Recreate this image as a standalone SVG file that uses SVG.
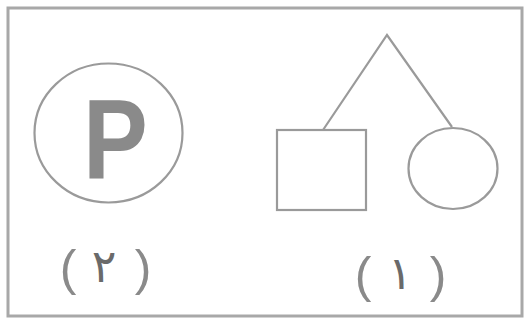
<svg xmlns="http://www.w3.org/2000/svg" width="525" height="324" viewBox="0 0 525 324">
<style>
.s{fill:none;stroke:#9a9a9a;stroke-width:2.2}
.t{fill:#858585;font-family:"DejaVu Sans","Liberation Sans",sans-serif}
.p{font-size:50px;font-family:"Liberation Sans",sans-serif;fill:#8a8a8a}
.d{font-size:46px;fill:#6a6a6a}
</style>
<rect x="0" y="0" width="525" height="324" fill="#fff"/>
<rect x="8" y="8" width="514" height="308" fill="none" stroke="#a8a8a8" stroke-width="3"/>
<g id="fig2">
<ellipse class="s" cx="108.5" cy="133" rx="74" ry="69.5"/>
<text x="0" y="0" font-size="113" font-weight="bold" font-family="Liberation Sans,sans-serif" fill="#8a8a8a" transform="translate(83 178) scale(0.86 1)">P</text>
</g>
<g id="label2">
<text class="t p" x="68" y="285" text-anchor="middle">(</text>
<text class="t d" x="104" y="282" text-anchor="middle">٢</text>
<text class="t p" x="143" y="285" text-anchor="middle">)</text>
</g>
<g id="connectors">
<polyline class="s" points="323,130 387,35 452,127"/>
</g>
<g id="square"><rect class="s" x="277" y="130" width="89" height="80"/></g>
<g id="circle"><ellipse class="s" cx="453" cy="168.5" rx="44.5" ry="40.5"/></g>
<g id="label1">
<text class="t p" x="363" y="292" text-anchor="middle">(</text>
<text class="t d" x="400" y="289" text-anchor="middle">١</text>
<text class="t p" x="438" y="292" text-anchor="middle">)</text>
</g>
</svg>
